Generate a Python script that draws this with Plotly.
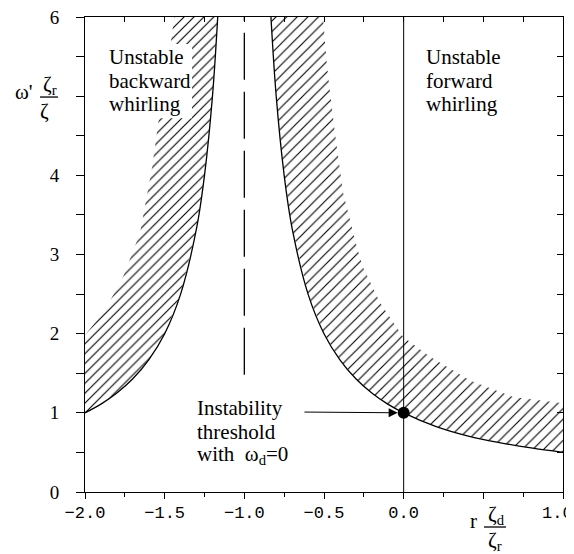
import plotly.graph_objects as go

# ---- data ----
# threshold curve, left branch (x < -1)
left_curve_x = [-2.0, -1.9, -1.8, -1.7, -1.6, -1.5, -1.4, -1.3, -1.25, -1.2, -1.167]
left_curve_y = [1.0, 1.11, 1.25, 1.43, 1.67, 2.0, 2.5, 3.33, 4.0, 5.0, 6.0]
# threshold curve, right branch (x > -1)
right_curve_x = [-0.833, -0.8, -0.75, -0.7, -0.6, -0.5, -0.4, -0.3, -0.2, -0.1, 0.0,
                 0.2, 0.4, 0.6, 0.8, 1.0]
right_curve_y = [6.0, 5.0, 4.0, 3.33, 2.5, 2.0, 1.67, 1.43, 1.25, 1.11, 1.0,
                 0.83, 0.71, 0.625, 0.556, 0.5]
# outer edges of hatched (unstable) bands
left_outer_x = [-1.44, -1.48, -1.542, -1.579, -1.655, -1.761, -1.874, -2.0]
left_outer_y = [6.0, 5.4, 4.64, 4.10, 3.27, 2.72, 2.30, 1.98]
right_outer_x = [-0.506, -0.481, -0.431, -0.380, -0.293, -0.255, -0.148, -0.004,
                 0.166, 0.417, 0.687, 1.0]
right_outer_y = [6.0, 5.37, 4.53, 3.78, 3.09, 2.84, 2.39, 1.96, 1.71, 1.41, 1.20, 1.12]
# asymptote (dashed) and r=0 line
dash_x = [-1.0, -1.0]
dash_y = [1.48, 6.0]
zero_x = [0.0, 0.0]
zero_y = [0.0, 6.0]
# threshold point
point_x = [0.0]
point_y = [1.0]

x_tickvals = [-2.0, -1.5, -1.0, -0.5, 0.0, 0.5, 1.0]
x_ticktext = ["\u22122.0", "\u22121.5", "\u22121.0", "\u22120.5", "0.0", "", ""]
x_last_label = "1.0"
y_tickvals = [0, 1, 2, 3, 4, 5, 6]
y_ticktext = ["0", "1", "2", "3", "4", "", "6"]

SERIF = "Liberation Serif"
MONO = "Liberation Mono"

fig = go.Figure()

# hatched band, left
lx = left_outer_x + left_curve_x + [left_outer_x[0]]
ly = left_outer_y + left_curve_y + [left_outer_y[0]]
fig.add_trace(go.Scatter(
    x=lx, y=ly, mode="none", fill="toself", fillcolor="rgba(0,0,0,0)",
    fillpattern=dict(shape="/", size=7, solidity=0.16, fgcolor="black",
                     fgopacity=1, bgcolor="rgba(0,0,0,0)"),
    showlegend=False, hoverinfo="skip"))

# hatched band, right
rx = right_outer_x + right_curve_x[::-1] + [right_outer_x[0]]
ry = right_outer_y + right_curve_y[::-1] + [right_outer_y[0]]
fig.add_trace(go.Scatter(
    x=rx, y=ry, mode="none", fill="toself", fillcolor="rgba(0,0,0,0)",
    fillpattern=dict(shape="/", size=7.5, solidity=0.15, fgcolor="black",
                     fgopacity=1, bgcolor="rgba(0,0,0,0)"),
    showlegend=False, hoverinfo="skip"))

# curves
for cx, cy in [(left_curve_x, left_curve_y), (right_curve_x, right_curve_y)]:
    fig.add_trace(go.Scatter(x=cx, y=cy, mode="lines",
                             line=dict(color="black", width=1.3, shape="spline"),
                             showlegend=False, hoverinfo="skip"))

fig.add_trace(go.Scatter(x=dash_x, y=dash_y, mode="lines",
                         line=dict(color="black", width=1.3, dash="47px,12px"),
                         showlegend=False, hoverinfo="skip"))
fig.add_trace(go.Scatter(x=zero_x, y=zero_y, mode="lines",
                         line=dict(color="black", width=1),
                         showlegend=False, hoverinfo="skip"))
fig.add_trace(go.Scatter(x=point_x, y=point_y, mode="markers",
                         marker=dict(color="black", size=12),
                         showlegend=False, hoverinfo="skip"))
# invisible trace so the mirrored (top/right) axes are drawn
fig.add_trace(go.Scatter(x=point_x, y=point_y, xaxis="x2", yaxis="y2", mode="markers",
                         marker=dict(opacity=0), showlegend=False, hoverinfo="skip"))

ann = []
def txt(x, y, t, size=21, xanchor="left", ref="x", family=SERIF):
    ann.append(dict(x=x, y=y, xref=ref, yref=("y" if ref == "x" else "paper"),
                    text=t, showarrow=False,
                    xanchor=xanchor, yanchor="middle",
                    font=dict(family=family, size=size, color="black")))

for t, yy in zip(["Unstable", "backward", "whirling"], [5.49, 5.19, 4.90]):
    txt(-1.862, yy, t)
for t, yy in zip(["Unstable", "forward", "whirling"], [5.49, 5.19, 4.90]):
    txt(0.128, yy, t)
for t, yy in zip(["Instability", "threshold", "with  \u03c9<sub>d</sub>=0"], [1.06, 0.76, 0.47]):
    txt(-1.310, yy, t)

# y-axis title pieces (paper coords)
txt(-0.1276, 0.842, "\u03c9'", xanchor="center", ref="paper")
txt(-0.0732, 0.857, "\u03b6<sub>r</sub>", xanchor="center", ref="paper")
txt(-0.0837, 0.802, "\u03b6", xanchor="center", ref="paper")
# x-axis title pieces (paper coords)
txt(0.8138, -0.061, "r", xanchor="center", ref="paper")
txt(0.860, -0.048, "\u03b6<sub>d</sub>", xanchor="center", ref="paper")
txt(0.8577, -0.103, "\u03b6<sub>r</sub>", xanchor="center", ref="paper")
# last x tick label, kept inside the picture as in the reference
txt(0.9895, -0.046, x_last_label, size=17, xanchor="center", ref="paper", family=MONO)

# arrow to threshold point
ann.append(dict(x=0.0, y=1.0, ax=-0.632, ay=1.01, xref="x", yref="y",
                axref="x", ayref="y", text="", showarrow=True,
                arrowhead=2, arrowsize=1.8, arrowwidth=1, arrowcolor="black",
                standoff=6))

shapes = [
    # white box behind "Unstable backward whirling"
    dict(type="rect", xref="x", yref="y", x0=-1.887, x1=-1.328, y0=4.72, y1=5.66,
         fillcolor="white", line=dict(width=0), layer="above"),
    # fraction bars
    dict(type="line", xref="paper", yref="paper", x0=-0.0941, x1=-0.0565,
         y0=0.8315, y1=0.8315, line=dict(color="black", width=1.3)),
    dict(type="line", xref="paper", yref="paper", x0=0.8347, x1=0.8808,
         y0=-0.0737, y1=-0.0737, line=dict(color="black", width=1.3)),
]

fig.update_layout(
    width=566, height=546,
    margin=dict(l=77, r=11, t=9, b=62),
    paper_bgcolor="white", plot_bgcolor="white",
    annotations=ann, shapes=shapes,
    xaxis=dict(range=[-2, 1], tickvals=x_tickvals, ticktext=x_ticktext,
               ticks="outside", ticklen=6, tickwidth=1, tickcolor="black",
               minor=dict(tickvals=[-1.75, -1.25, -0.75, -0.25, 0.25, 0.75],
                          ticks="outside", ticklen=4, tickcolor="black"),
               showline=True, linecolor="black", linewidth=1,
               showgrid=False, zeroline=False, ticklabelstandoff=-1,
               ticklabeloverflow="allow", automargin=False,
               tickfont=dict(family=MONO, size=17, color="black")),
    yaxis=dict(range=[0, 6], tickvals=y_tickvals, ticktext=y_ticktext,
               ticks="outside", ticklen=8, tickwidth=1, tickcolor="black",
               minor=dict(tickvals=[0.5, 1.5, 2.5, 3.5, 4.5, 5.5],
                          ticks="outside", ticklen=8, tickcolor="black"),
               showline=True, linecolor="black", linewidth=1,
               showgrid=False, zeroline=False, ticklabelstandoff=13,
               ticklabeloverflow="allow", automargin=False,
               tickfont=dict(family=SERIF, size=19, color="black")),
    xaxis2=dict(range=[-2, 1], overlaying="x", side="top", anchor="y",
                tick0=0, dtick=0.25, ticks="inside", ticklen=5, tickcolor="black",
                showticklabels=False, showline=True, linecolor="black",
                showgrid=False, zeroline=False, automargin=False),
    yaxis2=dict(range=[0, 6], overlaying="y", side="right", anchor="x",
                tick0=0, dtick=0.5, ticks="inside", ticklen=6, tickcolor="black",
                showticklabels=False, showline=True, linecolor="black",
                showgrid=False, zeroline=False, automargin=False),
)

fig.write_html("out.html")
